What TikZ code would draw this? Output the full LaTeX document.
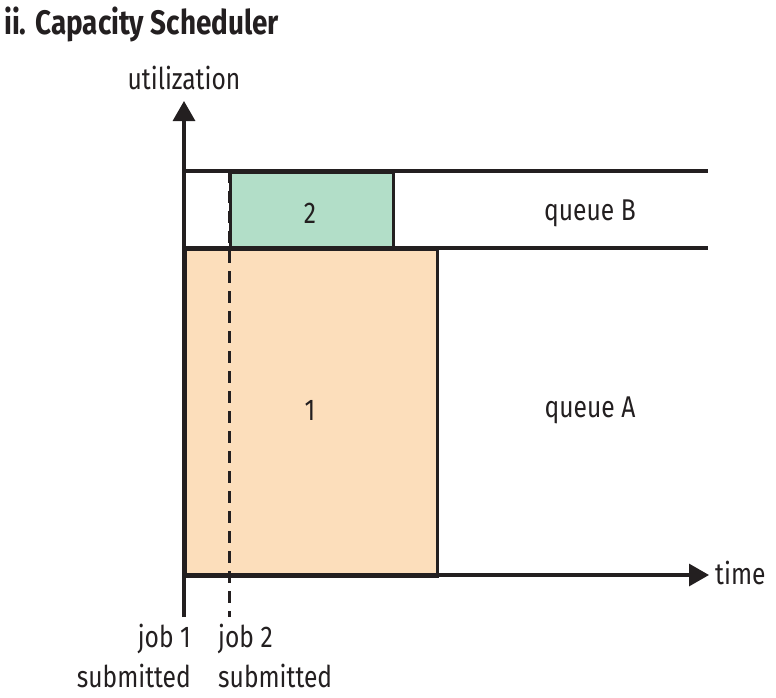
\documentclass[tikz,border=0pt]{standalone}
\usepackage{fontspec}
\setmainfont[FakeStretch=0.82]{Fira Sans}
\usetikzlibrary{arrows.meta}
\definecolor{inkc}{HTML}{231F20}
\definecolor{jobA}{HTML}{FCDEBB}
\definecolor{jobB}{HTML}{B2DEC8}
\tikzset{
  lbl/.style={inner sep=0pt, text=inkc, font=\fontsize{30}{40}\selectfont},
  ln/.style={line width=3.2pt, draw=inkc},
  arr/.style={ln, -{Triangle[length=20pt,width=22pt]}},
  dsh/.style={line width=3pt, draw=inkc, dash pattern=on 12pt off 8pt}
}
\begin{document}
\begin{tikzpicture}[x=1pt,y=-1pt]
\useasboundingbox (0,0) rectangle (776,697);
% job boxes
\node[ln, fill=jobA, minimum width=252pt, minimum height=327pt, inner sep=0pt, anchor=north west] (job1) at (184,248) {};
\node[ln, fill=jobB, minimum width=163pt, minimum height=77pt, inner sep=0pt, anchor=north west] (job2) at (229,171) {};
\node[lbl] (n1) at (310,410) {1};
\node[lbl] (n2) at (310,213) {2};
% queue lines
\coordinate (qtl) at (184,171);
\coordinate (qtr) at (708,171);
\coordinate (qml) at (184,248);
\coordinate (qmr) at (708,248);
\draw[ln] (qtl) -- (qtr);
\draw[ln] (qml) -- (qmr);
\node[lbl] (qB) at (590,213) {queue B};
\node[lbl] (qA) at (590,410) {queue A};
% dashed job 2 line
\coordinate (d1) at (229,171);
\coordinate (d2) at (229,617);
\draw[dsh] (d1) -- (d2);
% axes
\coordinate (o) at (184,575);
\coordinate (ybot) at (184,617);
\coordinate (ytop) at (184,101);
\coordinate (xend) at (709,575);
\draw[arr] (ybot) -- (ytop);
\draw[arr] (o) -- (xend);
\node[lbl, anchor=west] (time) at (715,573) {time};
\node[lbl] (util) at (184,78) {utilization};
% submitted labels
\node[lbl, anchor=north east, align=right] (j1) at (191,624) {job 1\\submitted};
\node[lbl, anchor=north west, align=left] (j2) at (218,624) {job 2\\submitted};
% title
\node[lbl, anchor=west, font=\fontsize{34}{38}\selectfont\bfseries] (title) at (4,24) {ii. Capacity Scheduler};
\end{tikzpicture}
\end{document}
